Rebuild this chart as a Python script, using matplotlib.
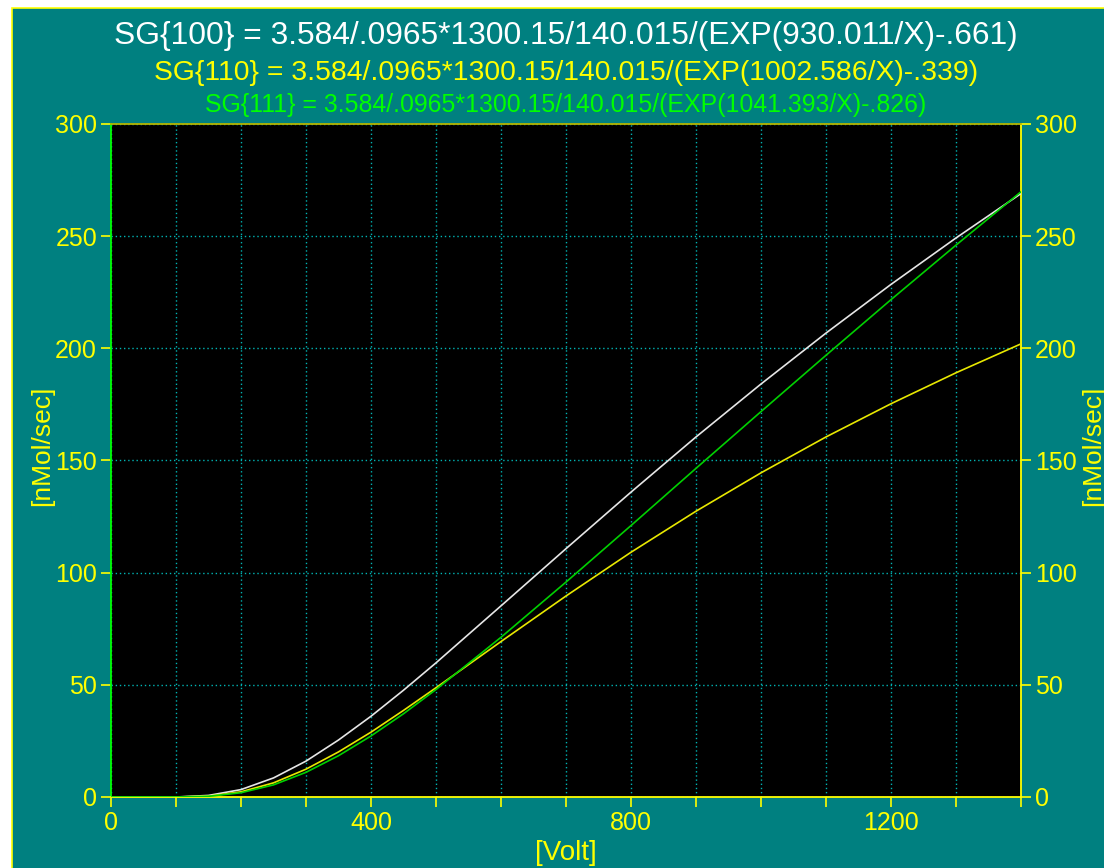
import matplotlib
matplotlib.use("Agg")
import matplotlib.pyplot as plt
from matplotlib.patches import Rectangle
from matplotlib.ticker import FuncFormatter, MultipleLocator

plt.rcParams["font.family"] = ["Liberation Sans", "DejaVu Sans"]

TEAL = "#008080"
YELLOW = "#ffff00"
GREEN = "#00ff00"
GRID = "#00b4b4"

# values (X in Volt, SG in nMol/sec)
volt = [0, 100, 150, 200, 250, 300, 350, 400, 450, 500, 600, 700,
        800, 900, 1000, 1100, 1200, 1300, 1400]
sg_100 = [0.0, 0.0, 0.7, 3.3, 8.5, 16.0, 25.4, 36.0, 47.6, 59.8, 85.2, 110.7,
          135.9, 160.5, 184.1, 206.8, 228.5, 249.2, 269.0]
sg_110 = [0.0, 0.0, 0.4, 2.3, 6.3, 12.4, 20.1, 28.9, 38.6, 48.7, 69.3, 89.6,
          109.1, 127.4, 144.5, 160.5, 175.3, 189.1, 202.0]
sg_111 = [0.0, 0.0, 0.3, 1.9, 5.4, 11.0, 18.4, 27.2, 37.1, 47.9, 71.2, 95.8,
          121.0, 146.5, 171.8, 196.9, 221.7, 246.0, 269.8]

titles = [
    ("SG{100} = 3.584/.0965*1300.15/140.015/(EXP(930.011/X)-.661)", "white", 22.9, 36),
    ("SG{110} = 3.584/.0965*1300.15/140.015/(EXP(1002.586/X)-.339)", YELLOW, 20.4, 73),
    ("SG{111} = 3.584/.0965*1300.15/140.015/(EXP(1041.393/X)-.826)", GREEN, 17.9, 105),
]

W, H = 1104, 868
fig = plt.figure(figsize=(W / 100, H / 100), dpi=100, facecolor="white")
# teal panel, outlined in yellow on its top and left edges only (others run off the figure)
fig.patches.append(Rectangle((12 / W, -0.02), 1.05, 1.02 - 8 / H, transform=fig.transFigure,
                             facecolor=TEAL, edgecolor=YELLOW, linewidth=1.2, zorder=-10))

ax = fig.add_axes([111 / W, 1 - 797 / H, (1021 - 111) / W, (797 - 124) / H])
ax.set_facecolor("black")

ax.plot(volt, sg_100, color="#e6e6e6", lw=1.2, zorder=3)
ax.plot(volt, sg_110, color="#e8e800", lw=1.2, zorder=3)
ax.plot(volt, sg_111, color="#00d000", lw=1.2, zorder=4)

ax.set_xlim(0, 1400)
ax.set_ylim(0, 300)
ax.xaxis.set_major_locator(MultipleLocator(100))
ax.yaxis.set_major_locator(MultipleLocator(50))
ax.xaxis.set_major_formatter(FuncFormatter(lambda v, p: f"{v:.0f}" if v % 400 == 0 else ""))
ax.grid(True, color=GRID, linestyle=(0, (1, 2)), linewidth=1.0, zorder=1)

for side in ("bottom", "right"):
    ax.spines[side].set_color(YELLOW)
ax.spines["top"].set_color("#b4b400")
ax.spines["left"].set_color(GREEN)
for sp in ax.spines.values():
    sp.set_linewidth(1.3)

ax.tick_params(axis="both", colors=YELLOW, labelsize=18, length=7, width=1.2, pad=3)
ax.tick_params(axis="y", right=True, labelright=True)

ax.set_xlabel("[Volt]", color=YELLOW, fontsize=20, labelpad=4)
for x in (42, 1093):
    fig.text(x / W, 1 - 446 / H, "[nMol/sec]", color=YELLOW, fontsize=19,
             rotation=90, ha="center", va="center")

for text, color, size, y in titles:
    fig.text(566 / W, 1 - y / H, text, color=color, fontsize=size,
             ha="center", va="center")

fig.savefig("out.png", dpi=100, facecolor=fig.get_facecolor())
